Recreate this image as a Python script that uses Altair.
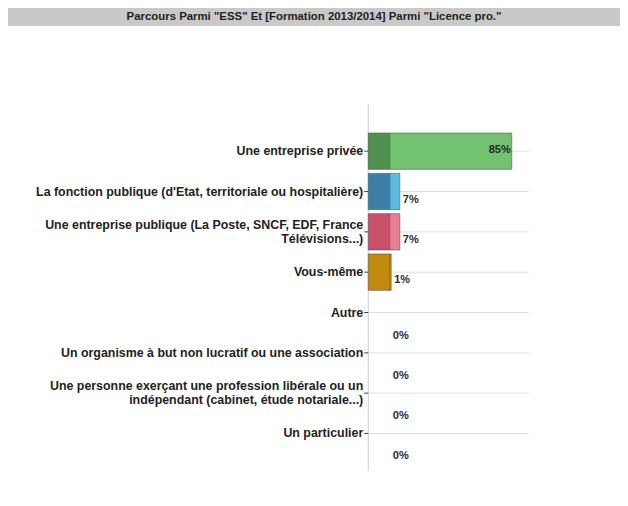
import altair as alt
import pandas as pd

title_text = 'Parcours Parmi "ESS" Et [Formation 2013/2014] Parmi "Licence pro."'

categories = [
    "Une entreprise privée",
    "La fonction publique (d'Etat, territoriale ou hospitalière)",
    "Une entreprise publique (La Poste, SNCF, EDF, France|Télévisions...)",
    "Vous-même",
    "Autre",
    "Un organisme à but non lucratif ou une association",
    "Une personne exerçant une profession libérale ou un|indépendant (cabinet, étude notariale...)",
    "Un particulier",
]
values = [85, 7, 7, 1, 0, 0, 0, 0]
front_colors = ["#72c272", "#5cbade", "#e97f97", "#d89b16", "#aaaaaa", "#aaaaaa", "#aaaaaa", "#aaaaaa"]
side_colors = ["#4f914f", "#3b80a8", "#c9506b", "#c28a0e", "#888888", "#888888", "#888888", "#888888"]

df = pd.DataFrame({
    "cat": categories,
    "val": values,
    "front": front_colors,
    "side": side_colors,
})
df["label"] = df["val"].astype(str) + "%"

FONT = "Liberation Sans"
DEPTH = -15      # 3D depth of the bars, in value units
XMIN, XMAX = -266, 97

x_scale = alt.Scale(domain=[XMIN, XMAX], nice=False, zero=False)
y_scale = alt.Scale(paddingInner=0.1, paddingOuter=0.6, align=0.6)
Y = alt.Y("cat:N", sort=categories, scale=y_scale, axis=None)

base = alt.Chart(df)

grid = base.mark_rule(color="#e0e0e0", strokeWidth=1).encode(
    x=alt.X("a:Q", scale=x_scale, axis=None),
    x2=alt.X2("b:Q"),
    y=Y,
).transform_calculate(a=str(DEPTH), b=str(XMAX))

domain = alt.Chart(alt.Data(values=[{"d": DEPTH}])).mark_rule(
    color="#cccccc", strokeWidth=1
).encode(x=alt.X("d:Q"))

ticks = base.mark_rule(color="#444444", strokeWidth=1).encode(
    x=alt.X("a:Q"),
    x2=alt.X2("b:Q"),
    y=Y,
).transform_calculate(a=str(DEPTH), b=str(DEPTH - 2.8))

lab_style = dict(font=FONT, fontSize=12.4, fontWeight="bold", color="#222222",
                 align="right", lineBreak="|", lineHeight=14)

labels1 = base.transform_filter("indexof(datum.cat, '|') < 0").mark_text(
    dx=-5, baseline="middle", **lab_style
).encode(x=alt.X("a:Q"), y=Y, text="cat:N").transform_calculate(a=str(DEPTH))

labels2 = base.transform_filter("indexof(datum.cat, '|') >= 0").mark_text(
    dx=-5, dy=-7, baseline="middle", **lab_style
).encode(x=alt.X("a:Q"), y=Y, text="cat:N").transform_calculate(a=str(DEPTH))

side = base.transform_filter("datum.val > 0").mark_bar(
    stroke="#555555", strokeWidth=0.6
).encode(
    x=alt.X("depth:Q"),
    x2=alt.X2("zero:Q"),
    y=Y,
    fill=alt.Fill("side:N", scale=None),
).transform_calculate(depth=str(DEPTH), zero="0")

front = base.transform_filter("datum.val > 0").mark_bar(
    stroke="#555555", strokeWidth=0.6
).encode(
    x=alt.X("zero:Q"),
    x2=alt.X2("val:Q"),
    y=Y,
    fill=alt.Fill("front:N", scale=None),
).transform_calculate(zero="0")

txt_style = dict(font=FONT, fontSize=11, fontWeight="bold", color="#2a2a2a")

big = base.transform_filter("datum.val >= 50").mark_text(
    align="right", dx=-1, dy=-1, **txt_style
).encode(x="val:Q", y=Y, text="label:N")

small = base.transform_filter("datum.val > 0 && datum.val < 50").mark_text(
    align="left", dx=3, dy=8, **txt_style
).encode(x="val:Q", y=Y, text="label:N")

zero_t = base.transform_filter("datum.val == 0").mark_text(
    align="left", dx=3, dy=23, **txt_style
).encode(x="val:Q", y=Y, text="label:N")

main = alt.layer(
    grid, domain, ticks, labels1, labels2, side, front, big, small, zero_t
).properties(width=521, height=367)

head = alt.Chart(alt.Data(values=[{"t": title_text}])).mark_text(
    font=FONT, fontSize=11.4, fontWeight="bold", color="#222222"
).encode(text="t:N").properties(
    width=612, height=18, view=alt.ViewBackground(fill="#c9c9c9", stroke=None)
)

chart = alt.vconcat(head, main, spacing=77).configure(
    padding=0, background="white"
).configure_view(stroke=None)

chart.save("out.html", embed_options={"renderer": "svg", "actions": False})
